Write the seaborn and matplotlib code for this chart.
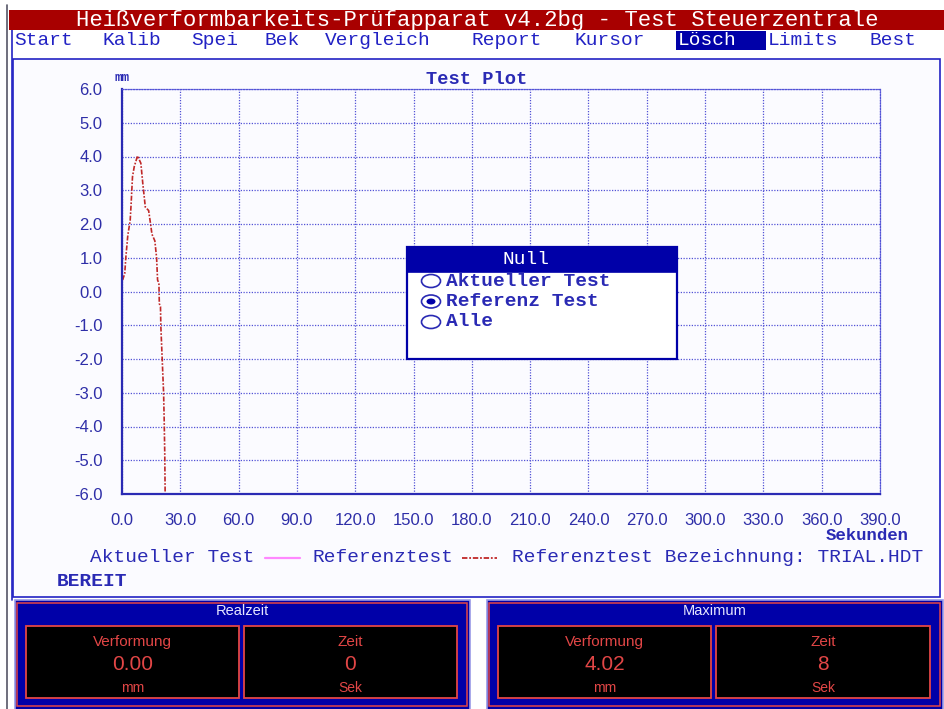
import numpy as np
import matplotlib
matplotlib.use("Agg")
import matplotlib.pyplot as plt
from matplotlib.patches import Rectangle, Ellipse
from matplotlib.lines import Line2D
import seaborn as sns

# Reference test curve: time in seconds, deformation in mm
time_s = [0.3, 1.4, 2.0, 3.0, 4.2, 4.7, 5.4, 6.3, 8.0, 9.7, 10.7, 12.0, 13.7,
          14.7, 15.4, 16.9, 17.8, 18.3, 19.0, 19.2, 19.8, 20.0, 20.7, 21.4,
          21.7, 22.0, 22.2]
deform_mm = [0.34, 0.53, 1.03, 1.67, 2.10, 2.60, 3.40, 3.70, 4.02, 3.80, 3.20,
             2.50, 2.40, 2.00, 1.70, 1.50, 1.00, 0.34, 0.24, -0.36, -0.45,
             -1.05, -2.03, -3.00, -3.80, -4.80, -6.00]

x_ticks = [0, 30, 60, 90, 120, 150, 180, 210, 240, 270, 300, 330, 360, 390]
y_ticks = [-6, -5, -4, -3, -2, -1, 0, 1, 2, 3, 4, 5, 6]

menu_items = ["Start", "Kalib", "Spei", "Bek", "Vergleich", "Report",
              "Kursor", "Lösch", "Limits", "Best"]
menu_x = [14, 103, 191, 265, 325, 472, 575, 678, 768, 870]
active_menu = "Lösch"

null_options = ["Aktueller Test", "Referenz Test", "Alle"]
null_selected = 1

realtime_deform = 0.00
realtime_time = 0

sns.set_style("white")
plt.rcParams["font.family"] = ["Liberation Sans", "DejaVu Sans"]
plt.rcParams["axes.unicode_minus"] = False

W, H = 945, 709
fig = plt.figure(figsize=(W / 100, H / 100), dpi=100, facecolor="white")

NAVY = "#0000A8"
UI_BLUE = "#2222C4"
AX_BLUE = "#2A2AB4"
GRID_BLUE = "#5252D6"
TITLE_RED = "#A80000"
CURVE_RED = "#C02828"
PANEL_RED = "#E24646"
MONO = ["Liberation Mono", "DejaVu Sans Mono"]
MONO_W = "normal"


def fx(x):
    return x / W


def fy(y):
    return 1 - y / H


def rect(x0, y0, x1, y1, **kw):
    r = Rectangle((fx(x0), fy(y1)), (x1 - x0) / W, (y1 - y0) / H,
                  transform=fig.transFigure, **kw)
    fig.patches.append(r)
    return r


def text(x, y, s, **kw):
    kw.setdefault("va", "center")
    return fig.text(fx(x), fy(y), s, **kw)


def hline(x0, x1, y, **kw):
    fig.lines.append(Line2D([fx(x0), fx(x1)], [fy(y), fy(y)],
                            transform=fig.transFigure, **kw))


def vline(x, y0, y1, **kw):
    fig.lines.append(Line2D([fx(x), fx(x)], [fy(y0), fy(y1)],
                            transform=fig.transFigure, **kw))


# window frame, title bar and menu
vline(7, 5, 709, color="#555566", lw=1.2, zorder=-3)
rect(9, 10, 945, 30, facecolor=TITLE_RED, edgecolor="none", zorder=-2)
text(477, 20.5, "Heißverformbarkeits-Prüfapparat v4.2bg - Test Steuerzentrale",
     ha="center", color="white", family=MONO, fontsize=16, fontweight=MONO_W)
vline(12, 30, 600, color=UI_BLUE, lw=1.2, zorder=-2)
for label, mx in zip(menu_items, menu_x):
    if label == active_menu:
        rect(mx - 2, 31, mx + 88, 50, facecolor=NAVY, edgecolor="none", zorder=-1)
        text(mx, 40.5, label, ha="left", color="white", family=MONO,
             fontsize=14, fontweight=MONO_W)
    else:
        text(mx, 40.5, label, ha="left", color=UI_BLUE, family=MONO,
             fontsize=14, fontweight=MONO_W)

# plot panel
rect(13, 59, 940, 597, facecolor="#FBFBFF", edgecolor=UI_BLUE, lw=1.2, zorder=-2)

# main chart
ax = fig.add_axes([fx(122), fy(494), 758 / W, 405 / H])
ax.patch.set_alpha(0)
sns.lineplot(x=time_s, y=deform_mm, ax=ax, color=CURVE_RED, lw=1.2,
             linestyle=(0, (3, 1, 1, 1)), errorbar=None, sort=False)
ax.set_xlim(0, 390)
ax.set_ylim(-6, 6)
ax.set_xticks(x_ticks)
ax.set_yticks(y_ticks)
ax.set_xticklabels([f"{v:.1f}" for v in x_ticks])
ax.set_yticklabels([f"{v:.1f}" for v in y_ticks])
ax.set_xlabel("")
ax.set_ylabel("")
ax.grid(True, color=GRID_BLUE, lw=0.9, linestyle=(0, (1, 1.2)))
for side in ["left", "bottom"]:
    ax.spines[side].set_color(AX_BLUE)
    ax.spines[side].set_linewidth(1.6)
for side in ["top", "right"]:
    ax.spines[side].set_color(GRID_BLUE)
    ax.spines[side].set_linewidth(0.9)
    ax.spines[side].set_linestyle((0, (1, 1.2)))
ax.tick_params(axis="y", direction="out", length=11, width=1.6, color=AX_BLUE,
               pad=3, labelsize=12, labelcolor="#2E2EA8")
ax.tick_params(axis="x", direction="out", length=10, width=1.6, color=AX_BLUE,
               pad=4, labelsize=12, labelcolor="#2E2EA8")

text(477, 80, "Test Plot", ha="center", color=AX_BLUE, family=MONO,
     fontsize=13.5, fontweight="bold")
text(122, 78, "mm", ha="center", color=AX_BLUE, family=MONO, fontsize=9,
     fontweight="bold")
text(867, 535, "Sekunden", ha="center", color=AX_BLUE, family=MONO,
     fontsize=12.5, fontweight="bold")

# legend row
text(90, 558, "Aktueller Test", ha="left", color=AX_BLUE, family=MONO,
     fontsize=14, fontweight=MONO_W)
hline(265, 300, 558, color="#FF88FF", lw=1.6)
text(313, 558, "Referenztest", ha="left", color=AX_BLUE, family=MONO,
     fontsize=14, fontweight=MONO_W)
hline(462, 497, 558, color=CURVE_RED, lw=1.3, linestyle=(0, (3, 1, 1, 1)))
text(512, 558, "Referenztest Bezeichnung: TRIAL.HDT", ha="left", color=AX_BLUE,
     family=MONO, fontsize=14, fontweight=MONO_W)
text(57, 581, "BEREIT", ha="left", color=AX_BLUE, family=MONO, fontsize=14,
     fontweight="bold")

# "Null" dialog
rect(407, 247, 677, 359, facecolor="white", edgecolor=NAVY, lw=1.6, zorder=2)
rect(407, 247, 677, 272, facecolor=NAVY, edgecolor=NAVY, lw=1.2, zorder=2)
text(526, 259.5, "Null", ha="center", color="white", family=MONO, fontsize=14,
     fontweight=MONO_W, zorder=4)
for i, opt in enumerate(null_options):
    yy = 281 + i * 20.5
    fig.patches.append(Ellipse((fx(431), fy(yy)), 19 / W, 13 / H,
                               transform=fig.transFigure, facecolor="white",
                               edgecolor=AX_BLUE, lw=1.2, zorder=3))
    if i == null_selected:
        fig.patches.append(Ellipse((fx(431), fy(yy)), 9 / W, 6 / H,
                                   transform=fig.transFigure, facecolor=NAVY,
                                   edgecolor="none", zorder=3))
    text(446, yy, opt, ha="left", color=AX_BLUE, family=MONO, fontsize=14,
         fontweight="bold", zorder=4)

# status panels
peak_idx = int(np.argmax(deform_mm))
panels = [
    (15, 470, "Realzeit", [(26, 239), (244, 457)],
     [f"{realtime_deform:.2f}", f"{realtime_time:d}"]),
    (487, 943, "Maximum", [(498, 711), (716, 930)],
     [f"{deform_mm[peak_idx]:.2f}", f"{time_s[peak_idx]:.0f}"]),
]
cell_labels = ["Verformung", "Zeit"]
cell_units = ["mm", "Sek"]
for x0, x1, title, boxes, values in panels:
    rect(x0, 600, x1, 712, facecolor=NAVY, edgecolor="#9A9AE6", lw=1.2)
    rect(x0 + 2.5, 603, x1 - 2.5, 706, facecolor="none", edgecolor=PANEL_RED,
         lw=1.1)
    text((x0 + x1) / 2, 611, title, ha="center", color="#E6E6FF", fontsize=10.5)
    for (bx0, bx1), lab, val, unit in zip(boxes, cell_labels, values, cell_units):
        rect(bx0, 626, bx1, 698, facecolor="black", edgecolor=PANEL_RED, lw=1.3)
        cx = (bx0 + bx1) / 2
        text(cx, 642, lab, ha="center", color=PANEL_RED, fontsize=11)
        text(cx, 665, val, ha="center", color=PANEL_RED, fontsize=15)
        text(cx, 688, unit, ha="center", color=PANEL_RED, fontsize=10)

fig.savefig("out.png", dpi=100, facecolor="white")
